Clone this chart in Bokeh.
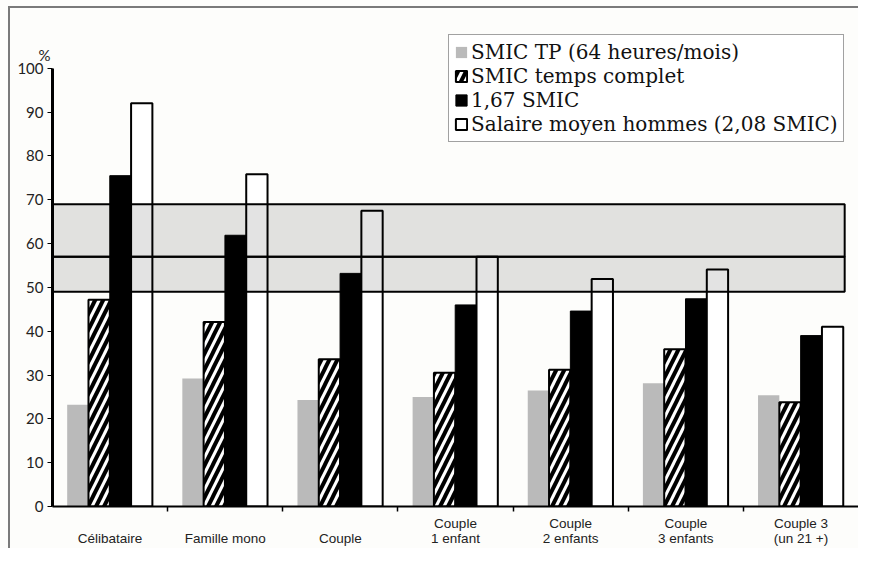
from bokeh.plotting import figure
from bokeh.models import Range1d, FixedTicker, Legend, LegendItem, Title, ColumnDataSource
from bokeh.embed import file_html
from bokeh.resources import INLINE

categories = ["\nCélibataire", "\nFamille mono", "\nCouple", "Couple\n1 enfant",
              "Couple\n2 enfants", "Couple\n3 enfants", "Couple 3\n(un 21 +)"]
smic_tp = [23.2, 29.2, 24.3, 25.0, 26.5, 28.1, 25.4]
smic_complet = [47.2, 42.1, 33.6, 30.5, 31.2, 35.9, 23.8]
smic_167 = [75.5, 61.9, 53.2, 46.0, 44.6, 47.4, 39.0]
salaire_moyen = [92.0, 75.8, 67.5, 57.0, 51.9, 54.1, 41.0]
series_names = ["SMIC TP (64 heures/mois)", "SMIC temps complet", "1,67 SMIC",
                "Salaire moyen hommes (2,08 SMIC)"]
band_bottoms = [49, 57]
band_tops = [57, 69]
y_ticks = list(range(0, 101, 10))

n = len(categories)
centers = [i + 0.5 for i in range(n)]

p = figure(width=858, height=548, output_backend="svg", toolbar_location=None,
           x_range=Range1d(0, n), y_range=Range1d(0, 110),
           min_border_left=52, min_border_top=24, min_border_right=0, min_border_bottom=38)
p.styles = {
    "background": ("linear-gradient(#7a7a7a,#7a7a7a) 8px 6px / 2px 100% no-repeat, "
                   "linear-gradient(#7a7a7a,#7a7a7a) 8px 6px / 100% 2px no-repeat, #fdfdfb")
}
p.background_fill_color = "#fdfdfb"
p.border_fill_color = None
p.outline_line_color = None
p.xgrid.visible = False
p.ygrid.visible = False

bw = 0.185
offsets = [-0.28, -0.095, 0.09, 0.275]
src = ColumnDataSource(dict(
    x0=[c + offsets[0] for c in centers], x1=[c + offsets[1] for c in centers],
    x2=[c + offsets[2] for c in centers], x3=[c + offsets[3] for c in centers],
    a=smic_tp, b=smic_complet, c=smic_167, d=salaire_moyen))

r0 = p.vbar(x="x0", top="a", width=bw, bottom=0, source=src,
            fill_color="#bababa", line_color=None)
r1 = p.vbar(x="x1", top="b", width=bw, bottom=0, source=src,
            fill_color="white", line_color="black", line_width=2,
            hatch_pattern="/", hatch_color="black", hatch_scale=16, hatch_weight=4)
r2 = p.vbar(x="x2", top="c", width=bw, bottom=0, source=src,
            fill_color="black", line_color="black", line_width=1)
r3 = p.vbar(x="x3", top="d", width=bw, bottom=0, source=src,
            fill_color="white", line_color="black", line_width=2)

# shaded bands
p.quad(left=0, right=6.88, bottom=band_bottoms, top=band_tops,
       fill_color="black", fill_alpha=0.11, line_color="black", line_width=2)

# axes
p.yaxis.ticker = FixedTicker(ticks=y_ticks)
p.yaxis.bounds = (0, 100)
p.yaxis.axis_line_width = 3
p.yaxis.major_tick_out = 5
p.yaxis.major_tick_in = 0
p.yaxis.minor_tick_line_color = None
p.yaxis.major_label_text_font = "Lato"
p.yaxis.major_label_text_font_size = "15px"
p.yaxis.major_label_text_color = "#222"
p.yaxis.major_label_standoff = 4

p.xaxis.ticker = FixedTicker(ticks=centers, minor_ticks=list(range(1, n)))
p.xaxis.major_label_overrides = {c: lab for c, lab in zip(centers, categories)}
p.xaxis.major_tick_line_color = None
p.xaxis.major_tick_out = 0
p.xaxis.major_tick_in = 0
p.xaxis.minor_tick_out = 5
p.xaxis.minor_tick_in = 0
p.xaxis.minor_tick_line_width = 1.5
p.xaxis.axis_line_width = 2
p.xaxis.major_label_text_font = "Liberation Sans"
p.xaxis.major_label_text_font_size = "13.5px"
p.xaxis.major_label_text_line_height = 1.0
p.xaxis.major_label_text_color = "#222"
p.xaxis.major_label_standoff = 4

pct = Title(text="%", align="left", offset=-14, standoff=-78,
            text_font="Lato", text_font_size="15px", text_font_style="normal",
            text_color="#222")
p.add_layout(pct, "above")

legend = Legend(items=[LegendItem(label=series_names[0], renderers=[r0]),
                       LegendItem(label=series_names[1], renderers=[r1]),
                       LegendItem(label=series_names[2], renderers=[r2]),
                       LegendItem(label=series_names[3], renderers=[r3])],
                location=(396, 364), orientation="vertical")
legend.label_text_font = "DejaVu Serif"
legend.label_text_font_size = "20px"
legend.label_text_color = "#111"
legend.glyph_width = 14
legend.glyph_height = 14
legend.label_height = 18
legend.label_standoff = 3
legend.spacing = 0
legend.padding = 5
legend.margin = 0
legend.border_line_color = "#444"
legend.border_line_width = 1.5
legend.background_fill_color = "white"
legend.background_fill_alpha = 1
p.add_layout(legend)

open("out.html", "w").write(file_html(p, INLINE))
